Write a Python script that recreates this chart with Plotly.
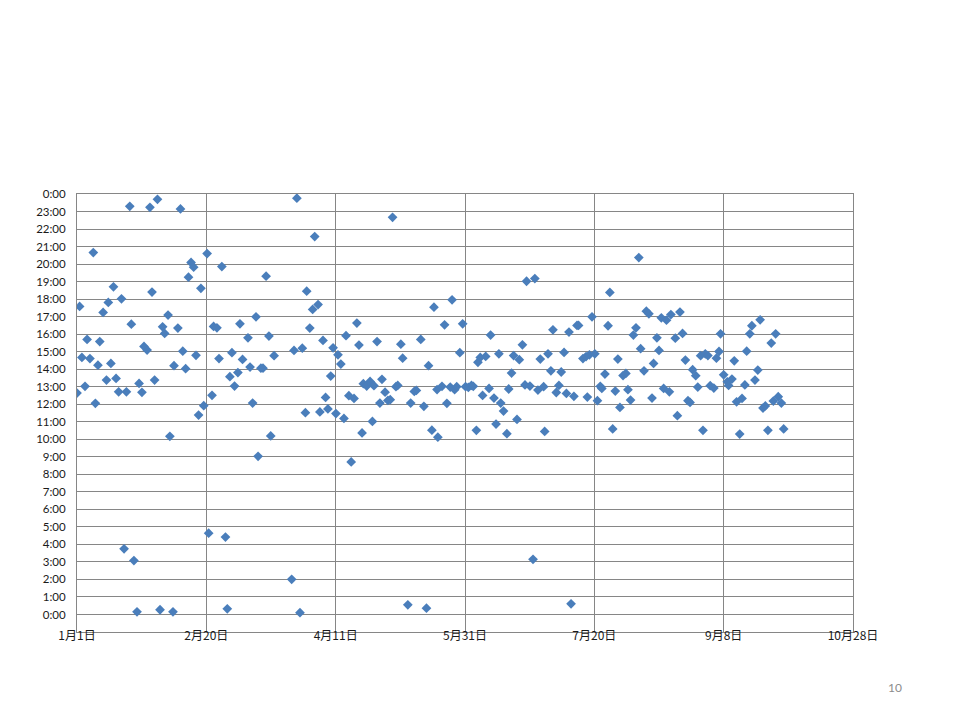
import plotly.graph_objects as go

# Day offset from 1月1日 (non-leap year) and time of day in hours
days = [0.0, 1.0, 1.9, 3.1, 3.9, 5.0, 6.3, 7.1, 8.1, 8.8, 10.1, 11.4, 12.1, 13.1, 14.1, 15.1,
        16.1, 17.2, 18.2, 19.1, 20.4, 21.0, 22.0, 23.2, 24.0, 25.1, 25.9, 27.1, 28.2, 29.0,
        30.0, 31.1, 32.1, 33.1, 33.9, 35.2, 35.9, 37.1, 37.5, 39.0, 40.0, 40.9, 42.0, 43.1,
        44.1, 45.1, 46.0, 47.0, 47.9, 49.0, 50.3, 50.9, 52.2, 52.8, 54.1, 54.9, 56.0, 57.4,
        58.1, 59.1, 59.9, 60.9, 62.2, 63.0, 64.0, 66.1, 66.9, 67.9, 69.2, 70.0, 71.1, 71.9,
        73.1, 74.2, 74.9, 76.2, 83.0, 83.9, 85.0, 86.2, 87.1, 88.3, 88.8, 90.0, 91.1, 91.9,
        93.2, 93.9, 95.1, 96.1, 97.0, 98.1, 99.0, 100.1, 100.9, 102.0, 103.2, 104.0, 105.1,
        106.0, 107.1, 108.2, 109.0, 110.2, 110.7, 112.0, 113.3, 114.2, 114.8, 116.0, 117.1,
        117.9, 119.1, 120.2, 121.1, 122.0, 123.3, 124.0, 125.2, 125.9, 127.9, 129.0, 130.4,
        131.2, 132.9, 134.1, 135.1, 135.9, 137.2, 138.0, 139.2, 139.5, 141.1, 142.1, 143.0,
        144.3, 145.0, 146.0, 146.8, 148.0, 149.1, 150.2, 151.3, 152.5, 153.2, 154.4, 155.0,
        155.9, 156.8, 158.0, 159.3, 159.9, 161.2, 162.0, 163.1, 163.8, 164.9, 166.2, 166.9,
        168.0, 168.8, 170.1, 171.0, 172.2, 173.2, 173.8, 175.1, 176.3, 177.0, 178.2, 179.1,
        180.4, 180.8, 182.1, 183.2, 184.0, 185.3, 186.3, 187.2, 188.3, 189.2, 190.2, 191.0,
        192.1, 193.3, 193.9, 195.6, 196.8, 197.3, 198.1, 199.1, 200.2, 201.2, 202.3, 202.9,
        204.1, 205.3, 206.0, 207.1, 208.1, 209.1, 209.9, 211.1, 212.2, 213.0, 214.0, 215.1,
        216.1, 217.2, 217.9, 219.2, 220.1, 221.1, 222.3, 222.9, 224.2, 225.0, 225.9, 226.8,
        227.9, 229.0, 229.6, 231.3, 232.1, 233.1, 234.1, 235.2, 236.2, 237.0, 238.0, 239.2,
        240.0, 241.1, 242.0, 242.9, 243.9, 244.8, 246.2, 247.2, 248.2, 248.8, 250.0, 251.4,
        251.9, 253.2, 254.1, 255.0, 256.2, 257.1, 258.2, 258.9, 260.1, 260.9, 262.1, 263.2,
        264.1, 265.2, 266.1, 267.1, 268.4, 269.2, 270.1, 271.1, 272.3, 273.2]

hours = [12.64, 17.58, 14.67, 13.02, 15.70, 14.61, 20.66, 12.05, 14.23, 15.58, 17.24, 13.38,
         17.81, 14.33, 18.70, 13.47, 12.71, 18.02, 3.75, 12.71, 23.30, 16.57, 3.08, 0.15,
         13.19, 12.68, 15.30, 15.09, 23.24, 18.40, 13.38, 23.70, 0.27, 16.42, 16.04, 17.09,
         10.17, 0.15, 14.20, 16.35, 23.15, 15.03, 14.03, 19.25, 20.09, 19.82, 14.79, 11.38,
         18.62, 11.92, 20.60, 4.64, 12.51, 16.44, 16.36, 14.61, 19.86, 4.42, 0.32, 13.57,
         14.94, 13.04, 13.81, 16.59, 14.56, 15.79, 14.12, 12.07, 16.99, 9.03, 14.06, 14.06,
         19.31, 15.89, 10.19, 14.77, 2.01, 15.07, 23.76, 0.10, 15.20, 11.52, 18.45, 16.35,
         17.41, 21.57, 17.69, 11.56, 15.64, 12.39, 11.73, 13.61, 15.22, 11.47, 14.82, 14.29,
         11.19, 15.91, 12.49, 8.71, 12.33, 16.63, 15.38, 10.36, 13.17, 13.04, 13.30, 11.02,
         13.06, 15.58, 12.07, 13.42, 12.69, 12.22, 12.26, 22.67, 13.00, 13.07, 15.43, 14.63,
         0.55, 12.07, 12.73, 12.79, 15.70, 11.88, 0.36, 14.20, 10.52, 17.54, 12.84, 10.12,
         13.02, 16.53, 12.05, 12.98, 17.96, 12.83, 13.00, 14.94, 16.59, 13.00, 12.96, 13.07,
         13.02, 10.51, 14.39, 14.67, 12.50, 14.73, 12.90, 15.95, 12.35, 10.87, 14.88, 12.07,
         11.61, 10.32, 12.87, 13.78, 14.78, 11.13, 14.54, 15.39, 13.10, 19.02, 13.04, 3.15,
         19.17, 12.81, 14.58, 13.00, 10.45, 14.88, 13.91, 16.25, 12.67, 13.07, 13.84, 14.96,
         12.62, 16.12, 0.61, 12.45, 16.50, 16.50, 14.61, 14.72, 12.41, 14.82, 16.99, 14.88,
         12.20, 13.02, 12.90, 13.72, 16.48, 18.38, 10.59, 12.75, 14.58, 11.82, 13.64, 13.76,
         12.83, 12.24, 15.95, 16.36, 20.37, 15.17, 13.91, 17.31, 17.16, 12.35, 14.33, 15.79,
         15.07, 16.93, 12.90, 16.80, 12.71, 17.12, 15.77, 11.35, 17.26, 16.04, 14.52, 12.20,
         12.10, 13.97, 13.63, 12.98, 14.77, 10.51, 14.88, 14.78, 13.06, 12.92, 14.63, 15.01,
         16.02, 13.68, 13.28, 13.07, 13.44, 14.48, 12.14, 10.30, 12.33, 13.10, 15.03, 16.02,
         16.48, 13.38, 13.95, 16.82, 11.78, 11.90, 10.51, 15.49, 12.18, 16.02, 12.43, 12.07,
         10.59]

x_tick_vals = [0, 50, 100, 150, 200, 250, 300]
x_tick_text = ["1月1日", "2月20日", "4月11日", "5月31日", "7月20日", "9月8日", "10月28日"]
y_tick_vals = list(range(0, 25))
y_tick_text = [f"{h % 24}:00" for h in y_tick_vals]
page_number = "10"

grid = "#868686"

fig = go.Figure()
fig.add_trace(go.Scatter(
    x=days, y=hours, mode="markers",
    marker=dict(symbol="diamond", size=7.5, color="#4A7EBB"),
    hoverinfo="skip", showlegend=False,
))

# The page body has an 8px default margin, so the figure is offset by 8px.
fig.update_layout(
    width=952, height=712,
    paper_bgcolor="white", plot_bgcolor="white",
    margin=dict(l=69, r=107, t=186, b=88),
    font=dict(family="Lato, 'Noto Sans CJK JP', sans-serif", size=11, color="#1a1a1a"),
    showlegend=False,
)
fig.update_xaxes(
    range=[0, 300], tickvals=x_tick_vals, ticktext=x_tick_text,
    showgrid=True, gridcolor=grid, gridwidth=1,
    showline=True, linecolor=grid, linewidth=1, mirror=True,
    zeroline=False, ticks="",
    tickfont=dict(family="'Noto Sans CJK JP', sans-serif", size=12, color="#1a1a1a"),
    ticklabelstandoff=-7,
)
fig.update_yaxes(
    range=[-1, 24], tickvals=y_tick_vals, ticktext=y_tick_text,
    showgrid=True, gridcolor=grid, gridwidth=1,
    showline=True, linecolor=grid, linewidth=1, mirror=True,
    zeroline=False, ticks="outside", ticklen=8, tickcolor="rgba(0,0,0,0)",
    tickfont=dict(family="Lato, sans-serif", size=11.5, color="#1a1a1a"),
)
fig.add_annotation(
    text=page_number, xref="paper", yref="paper",
    x=(895 - 77) / 776, y=(632 - 687) / 438,
    xanchor="center", yanchor="middle", showarrow=False,
    font=dict(family="Lato, sans-serif", size=12, color="#8C8C8C"),
)

fig.write_html("out.html")
